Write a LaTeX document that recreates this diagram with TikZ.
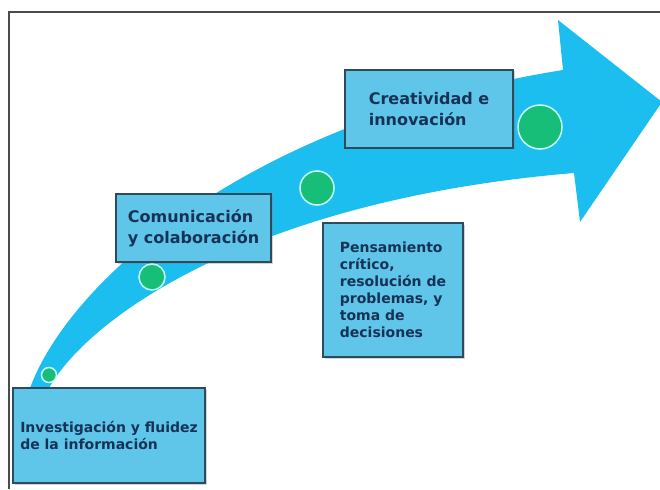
\documentclass[tikz,border=0pt]{standalone}
\usepackage{fontspec}
\setmainfont{DejaVu Sans}
\usepackage{tikz}
\usetikzlibrary{shadows}

\definecolor{arrowcyan}{RGB}{28,190,240}
\definecolor{boxfill}{RGB}{95,198,234}
\definecolor{boxline}{RGB}{45,75,90}
\definecolor{boxtext}{RGB}{22,50,85}
\definecolor{dotgreen}{RGB}{22,190,120}
\definecolor{dotring}{RGB}{200,255,245}
\definecolor{framegray}{RGB}{75,75,75}

\tikzset{
    stagebox/.style={draw=boxline, fill=boxfill, line width=1.5pt, text=boxtext, align=left, inner sep=0pt,
        drop shadow={shadow xshift=1.5pt, shadow yshift=-1.5pt, opacity=0.35}},
    stagedot/.style={circle, draw=dotring, fill=dotgreen, line width=1.5pt, inner sep=0pt, minimum size=#1}
}

\begin{document}
\begin{tikzpicture}[x=1pt, y=-1pt]
        \useasboundingbox (0,0) rectangle (660,489);

        %Frame
        \draw[framegray, line width=2pt] (9,489) -- (9,12) -- (660,12);

        %Arrow
        \fill[arrowcyan] (26,398) -- (30,388) .. controls (70,280) and (250,120) .. (563,70)
            -- (558,20) -- (662,102) -- (580,222) -- (574,173)
            .. controls (250,200) and (85,320) .. (48,390) -- (44,398) -- cycle;

        %Boxes
        \node[stagebox, minimum width=192, minimum height=95, font=\fontsize{14}{17}\selectfont\bfseries] (infobox) at (109,435.5)
            {Investigación y fluidez\\de la información};
        \node[stagebox, minimum width=155, minimum height=68, font=\fontsize{16}{21}\selectfont\bfseries] (combox) at (193.5,228)
            {Comunicación\\y colaboración};
        \node[stagebox, minimum width=140, minimum height=134, font=\fontsize{14}{17}\selectfont\bfseries] (pensbox) at (393,290)
            {Pensamiento\\crítico,\\resolución de\\problemas, y\\toma de\\decisiones};
        \node[stagebox, minimum width=168, minimum height=78, font=\fontsize{16}{21}\selectfont\bfseries] (creabox) at (429,109)
            {Creatividad e\\innovación};

        %Dots
        \node[stagedot=15pt] (dotinfo) at (49,375) {};
        \node[stagedot=26pt] (dotcom) at (152,277) {};
        \node[stagedot=34pt] (dotpens) at (317,188) {};
        \node[stagedot=44pt] (dotcrea) at (540,127) {};

\end{tikzpicture}
\end{document}
